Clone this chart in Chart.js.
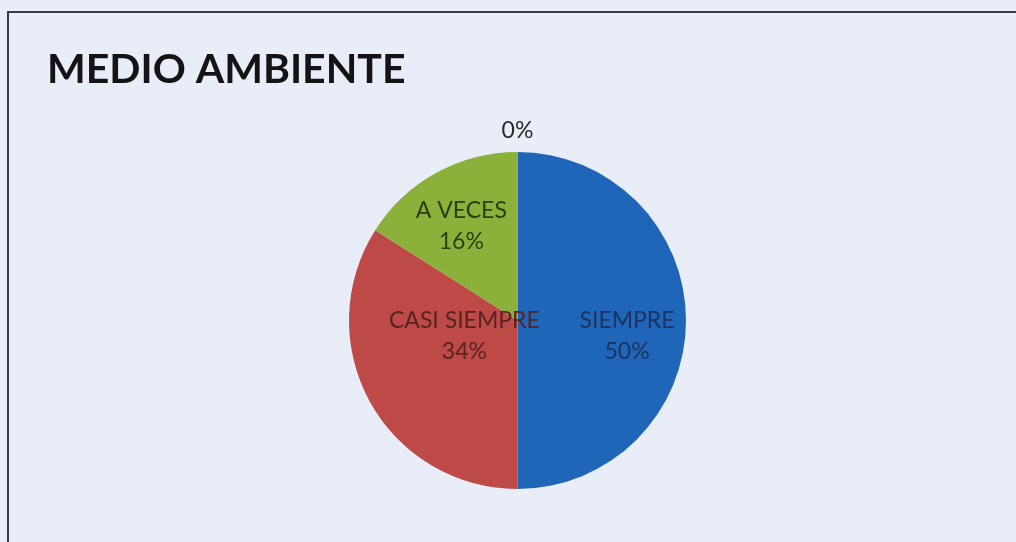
<!DOCTYPE html>
<html><head><meta charset="utf-8">
<script src="https://cdn.jsdelivr.net/npm/chart.js@4.4.1/dist/chart.umd.min.js"></script>
<style>html,body{margin:0;padding:0;background:#e9edf8;overflow:hidden}#wrap{width:1016px;height:542px;position:relative}</style>
</head><body><div id="wrap"><canvas id="c" width="1016" height="542"></canvas></div>
<script>
const chartTitle = 'MEDIO AMBIENTE';
const categories = ['SIEMPRE', 'CASI SIEMPRE', 'A VECES', ''];
const percentages = [50, 34, 16, 0];
const sliceColors = ['#1f66b8', '#bd4a47', '#8bb13b', '#7f62a0'];
const labelColors = ['#1b3560', '#5a2222', '#2e3c14', '#2a2a2a'];

const framePlugin = {
  id: 'frame',
  beforeDraw(chart) {
    const ctx = chart.ctx;
    ctx.save();
    ctx.fillStyle = '#e9edf8';
    ctx.fillRect(0, 0, chart.width, chart.height);
    ctx.strokeStyle = '#3c3c44';
    ctx.lineWidth = 2;
    ctx.beginPath();
    ctx.moveTo(chart.width, 12);
    ctx.lineTo(8, 12);
    ctx.lineTo(8, chart.height);
    ctx.stroke();
    ctx.fillStyle = '#141414';
    ctx.font = 'bold 41px Lato';
    ctx.textBaseline = 'alphabetic';
    ctx.textAlign = 'left';
    ctx.fillText(chartTitle, 47, 83);
    ctx.restore();
  }
};

const labelPlugin = {
  id: 'sliceLabels',
  afterDatasetsDraw(chart, args, opts) {
    const ctx = chart.ctx;
    const meta = chart.getDatasetMeta(0);
    ctx.save();
    ctx.font = opts.font;
    ctx.textAlign = 'center';
    ctx.textBaseline = 'middle';
    meta.data.forEach((arc, i) => {
      const p = arc.getProps(['x', 'y', 'startAngle', 'endAngle', 'outerRadius'], true);
      const mid = (p.startAngle + p.endAngle) / 2;
      const pl = opts.placement[i];
      const r = p.outerRadius;
      const cx = p.x + Math.cos(mid) * r * pl.frac + pl.dx * r;
      const cy = p.y + Math.sin(mid) * r * pl.frac + pl.dy * r;
      const lines = [];
      if (categories[i]) lines.push(categories[i]);
      lines.push(percentages[i] + '%');
      const lh = opts.lineHeight;
      const y0 = cy - (lines.length - 1) * lh / 2;
      ctx.fillStyle = labelColors[i];
      lines.forEach((t, k) => ctx.fillText(t, cx, y0 + k * lh));
    });
    ctx.restore();
  }
};

new Chart(document.getElementById('c'), {
  type: 'pie',
  data: {
    labels: categories,
    datasets: [{
      data: percentages,
      backgroundColor: sliceColors,
      borderWidth: 0
    }]
  },
  options: {
    responsive: false,
    animation: false,
    devicePixelRatio: 1,
    layout: { padding: { top: 152, bottom: 53, left: 349, right: 330 } },
    plugins: {
      legend: { display: false },
      title: { display: false },
      tooltip: { enabled: false },
      sliceLabels: {
        font: '23px Lato',
        lineHeight: 31,
        placement: [
          { frac: 0.65, dx: 0, dy: 0.09 },
          { frac: 0.36, dx: 0, dy: -0.08 },
          { frac: 0.64, dx: -0.025, dy: 0 },
          { frac: 1.125, dx: 0, dy: 0 }
        ]
      }
    }
  },
  plugins: [framePlugin, labelPlugin]
});
</script></body></html>
